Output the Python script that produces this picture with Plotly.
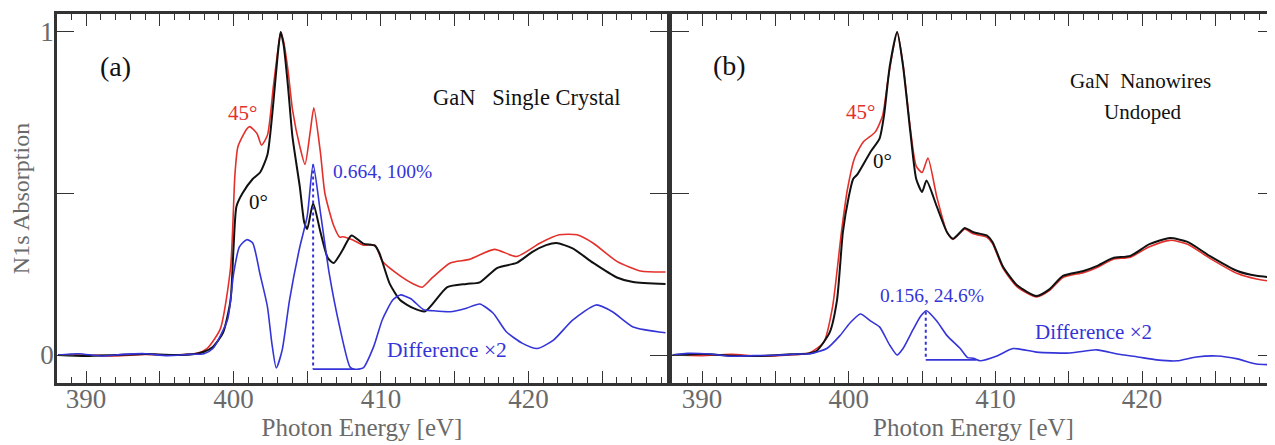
import plotly.graph_objects as go

# ---------------- data ----------------
# Panel (a): GaN single crystal
a_black_x = [388.1, 390, 392, 394, 396, 397.5, 398.0, 398.6, 399.3, 399.8, 400.0, 400.2, 400.6, 401.3, 401.8,
             402.3, 402.7, 403.0, 403.2, 403.4, 403.7, 404.0, 404.5, 404.8, 405.0, 405.4, 405.9, 406.4, 406.8,
             407.4, 408.0, 408.8, 409.6, 409.9, 410.6, 411.3, 412.2, 413.0, 414.5, 415.8, 416.7, 417.9, 419.2,
             420.3, 421.2, 421.9, 423.0, 424.4, 426.0, 427.1, 429.3]
a_black_y = [0.0, -0.003, 0.0, 0.003, 0.0, 0.004, 0.01, 0.025, 0.07, 0.17, 0.33, 0.46, 0.50, 0.545, 0.565,
             0.62, 0.78, 0.93, 1.0, 0.96, 0.83, 0.675, 0.52, 0.41, 0.39, 0.47, 0.38, 0.30, 0.285,
             0.325, 0.37, 0.345, 0.338, 0.315, 0.22, 0.17, 0.145, 0.135, 0.21, 0.22, 0.225, 0.27, 0.285,
             0.32, 0.34, 0.347, 0.33, 0.285, 0.24, 0.226, 0.22]

a_red_x = [388.1, 390, 392, 394, 396, 397.5, 398.2, 399.1, 399.8, 400.1, 400.3, 400.9, 401.1, 401.6, 401.9,
           402.3, 402.7, 403.0, 403.2, 403.4, 403.7, 404.0, 404.5, 404.85, 405.2, 405.45, 405.9, 406.2, 406.8, 407.2,
           407.4, 408.1, 408.8, 409.6, 410.1, 411.3, 412.2, 412.8, 413.5, 414.7, 416.0, 417.7, 419.2, 420.8,
           422.1, 423.3, 424.4, 426.0, 427.6, 429.3]
a_red_y = [0.0, 0.0, -0.003, 0.002, 0.0, 0.005, 0.02, 0.08, 0.27, 0.56, 0.645, 0.70, 0.707, 0.685, 0.65,
           0.68, 0.83, 0.94, 1.0, 0.97, 0.88, 0.76, 0.645, 0.59, 0.69, 0.765, 0.625, 0.50, 0.40, 0.365,
           0.366, 0.356, 0.34, 0.34, 0.29, 0.245, 0.22, 0.21, 0.24, 0.285, 0.296, 0.327, 0.305, 0.347,
           0.372, 0.372, 0.346, 0.29, 0.26, 0.257]

a_diff_x = [388.1, 389.5, 391, 392.5, 394, 395.5, 397, 398, 398.6, 399.6, 400.0, 400.4, 400.9, 401.3, 401.8,
            402.3, 402.6, 402.9, 403.3, 403.8, 404.5, 405.0, 405.4, 405.9, 406.5, 407.2, 407.9, 408.2, 408.8,
            409.5, 410.1, 410.8, 411.3, 412.0, 412.9, 413.5, 414.7, 415.8, 416.7, 417.6, 418.5, 419.6, 420.6,
            421.7, 423.0, 424.6, 425.7, 427.1, 429.3]
a_diff_y = [0.0, 0.004, -0.003, 0.002, 0.004, -0.002, 0.002, 0.004, 0.02, 0.11, 0.25, 0.335, 0.357, 0.347, 0.25,
            0.15, 0.037, -0.04, 0.015, 0.17, 0.335, 0.43, 0.59, 0.44, 0.25, 0.087, -0.037, -0.044, -0.04,
            0.025, 0.11, 0.17, 0.186, 0.175, 0.14, 0.137, 0.134, 0.145, 0.158, 0.13, 0.072, 0.036, 0.02,
            0.046, 0.108, 0.155, 0.134, 0.087, 0.069]

a_peak = [405.4, 0.59]          # dotted marker: energy, height
a_floor = [-0.044, 408.2]       # solid floor line: level, end energy

# Panel (b): GaN nanowires, undoped
b_black_x = [388.0, 390, 392, 394, 396, 397.3, 397.8, 398.7, 399.2, 399.6, 400.0, 400.3, 400.6, 401.5, 402.1,
             402.4, 402.8, 403.3, 403.7, 404.2, 404.6, 405.0, 405.3, 406.0, 406.7, 407.1, 407.6, 407.9, 408.5, 409.4,
             409.8, 410.5, 411.5, 412.8, 413.7, 414.6, 416.0, 416.9, 418.0, 419.2, 420.5, 421.9, 423.1, 424.6,
             426.5, 427.8, 429.1]
b_black_y = [0.0, 0.003, -0.002, -0.003, 0.002, 0.005, 0.012, 0.07, 0.17, 0.38, 0.49, 0.545, 0.56, 0.63, 0.67,
             0.74, 0.895, 1.0, 0.895, 0.69, 0.545, 0.505, 0.54, 0.46, 0.38, 0.36, 0.38, 0.393, 0.38, 0.37,
             0.35, 0.275, 0.215, 0.183, 0.204, 0.245, 0.26, 0.275, 0.30, 0.307, 0.343, 0.362, 0.35, 0.307,
             0.26, 0.245, 0.24]

b_red_x = [388.0, 390, 392, 394, 396, 397.3, 398.3, 398.9, 399.5, 399.9, 400.4, 401.0, 401.8, 402.3, 402.7,
           403.3, 403.7, 404.2, 404.6, 405.0, 405.4, 406.0, 406.7, 407.1, 407.6, 407.9, 408.5, 409.4, 409.8,
           410.5, 411.5, 412.8, 413.7, 414.6, 416.0, 416.9, 418.0, 419.2, 420.5, 421.9, 423.1, 424.6, 426.5,
           427.8, 429.1]
b_red_y = [0.0, -0.002, 0.002, -0.004, 0.0, 0.006, 0.04, 0.15, 0.38, 0.51, 0.61, 0.66, 0.69, 0.74, 0.86,
           1.0, 0.9, 0.70, 0.585, 0.565, 0.61, 0.49, 0.38, 0.358, 0.378, 0.39, 0.375, 0.365, 0.345,
           0.27, 0.21, 0.18, 0.2, 0.24, 0.255, 0.27, 0.296, 0.303, 0.335, 0.355, 0.343, 0.3, 0.252,
           0.235, 0.226]

b_diff_x = [388.0, 389, 390.5, 392, 393.5, 395, 396.5, 397.4, 398.5, 399.4, 400.1, 400.8, 401.5, 402.1, 402.8,
            403.3, 403.7, 404.4, 404.9, 405.3, 406.0, 406.7, 407.6, 408.1, 408.5, 408.95, 410.1, 411.2, 412.8,
            415.1, 416.9, 418.3, 419.7, 421.0, 422.4, 423.7, 425.1, 426.5, 427.8, 429.1]
b_diff_y = [0.0, 0.005, 0.003, -0.004, -0.002, -0.001, 0.003, 0.004, 0.02, 0.06, 0.10, 0.127, 0.105, 0.087, 0.03,
            0.0, 0.02, 0.08, 0.12, 0.137, 0.105, 0.06, 0.02, -0.008, -0.01, -0.018, -0.003, 0.02, 0.009,
            0.006, 0.016, 0.003, -0.006, -0.015, -0.018, -0.006, -0.003, -0.012, -0.028, -0.03]

b_peak = [405.25, 0.134]
b_floor = [-0.015, 408.7]

x_major = [390, 395, 400, 405, 410, 415, 420, 425]
x_labels = ["390", "", "400", "", "410", "", "420", ""]
y_major = [0, 0.5, 1]
y_labels = ["0", "", "1"]

# ---------------- styling ----------------
RED = "#e3302b"
BLUE = "#3434d8"
BLACK = "#111111"
FRAME = "#333333"
GREY = "#6a6a6a"
SERIF = "Liberation Serif"

fig = go.Figure()

def add_panel(xa, ya, bx, by, rx, ry, dx, dy, peak, floor):
    fig.add_trace(go.Scatter(x=rx, y=ry, mode="lines", line=dict(color=RED, width=1.6, shape="spline", smoothing=0.6),
                             xaxis=xa, yaxis=ya, showlegend=False))
    fig.add_trace(go.Scatter(x=bx, y=by, mode="lines", line=dict(color=BLACK, width=2.0, shape="spline", smoothing=0.6),
                             xaxis=xa, yaxis=ya, showlegend=False))
    fig.add_trace(go.Scatter(x=dx, y=dy, mode="lines", line=dict(color=BLUE, width=1.6, shape="spline", smoothing=0.6),
                             xaxis=xa, yaxis=ya, showlegend=False))
    fig.add_trace(go.Scatter(x=[peak[0], peak[0]], y=[peak[1], floor[0]], mode="lines",
                             line=dict(color=BLUE, width=2, dash="dot"), xaxis=xa, yaxis=ya, showlegend=False))
    fig.add_trace(go.Scatter(x=[peak[0], floor[1]], y=[floor[0], floor[0]], mode="lines",
                             line=dict(color=BLUE, width=1.8), xaxis=xa, yaxis=ya, showlegend=False))

add_panel("x", "y", a_black_x, a_black_y, a_red_x, a_red_y, a_diff_x, a_diff_y, a_peak, a_floor)
add_panel("x2", "y2", b_black_x, b_black_y, b_red_x, b_red_y, b_diff_x, b_diff_y, b_peak, b_floor)

# The page body has an 8px default margin, so the figure starts 8px in.
OFF = 8
W, H = 1275 - OFF, 445 - OFF
def px(sx):
    return (sx - OFF) / W
def py(sy):
    return 1 - (sy - OFF) / H

ydom = [py(383), py(14)]
YRANGE = [-0.0867, 1.0557]

def xaxis_cfg(dom, rng, anchor):
    return dict(domain=dom, range=rng, anchor=anchor, showgrid=False, zeroline=False,
                showline=True, linecolor=FRAME, linewidth=2.5, mirror="ticks",
                ticks="inside", ticklen=12, tickwidth=1.4, tickcolor=FRAME,
                tickmode="array", tickvals=x_major, ticktext=x_labels,
                tickfont=dict(family=SERIF, size=27, color=GREY), ticklabelstandoff=-10,
                minor=dict(ticks="inside", ticklen=6, tickwidth=1.2, tickcolor=FRAME,
                           tickmode="linear", tick0=390, dtick=1),
                title=dict(text="Photon Energy [eV]", font=dict(family=SERIF, size=25, color=GREY), standoff=2))

def yaxis_cfg(anchor, labels, mirror):
    return dict(domain=ydom, range=YRANGE, anchor=anchor, showgrid=False, zeroline=False,
                showline=True, linecolor=FRAME, linewidth=2.5, mirror=mirror,
                ticks="inside", ticklen=17, tickwidth=1.4, tickcolor=FRAME,
                tickmode="array", tickvals=y_major, ticktext=y_labels,
                showticklabels=labels, ticklabelstandoff=-5,
                tickfont=dict(family=SERIF, size=27, color=GREY))

fig.update_layout(
    width=W, height=H, margin=dict(l=0, r=0, t=0, b=0),
    paper_bgcolor="white", plot_bgcolor="white",
    font=dict(family=SERIF),
    xaxis=xaxis_cfg([px(57), px(667)], [388.03, 429.4], "y"),
    xaxis2=xaxis_cfg([px(672), 1.0], [387.95, 429.06], "y2"),
    yaxis=dict(yaxis_cfg("x", True, "ticks"),
               title=dict(text="N1s Absorption", font=dict(family=SERIF, size=24, color=GREY), standoff=4)),
    yaxis2=yaxis_cfg("x2", False, False),
    # right-hand ticks of panel (b); its frame line lies beyond the picture edge
    yaxis3=dict(overlaying="y2", side="right", anchor="x2", range=YRANGE, showgrid=False, zeroline=False,
                showline=False, ticks="inside", ticklen=17, tickwidth=1.4, tickcolor=FRAME,
                tickmode="array", tickvals=y_major, showticklabels=False),
)

# invisible carrier so the right-hand tick axis is drawn
fig.add_trace(go.Scatter(x=[b_black_x[0]], y=[b_black_y[0]], mode="lines", xaxis="x2", yaxis="y3",
                         showlegend=False, hoverinfo="skip", line=dict(width=0)))

NB = "\u00a0"
ann = [
    ("x", "y", 392.0, 0.892, "(a)", BLACK, 28),
    ("x", "y", 400.6, 0.75, "45°", RED, 21),
    ("x", "y", 401.7, 0.474, "0°", BLACK, 21),
    ("x", "y", 410.1, 0.567, "0.664, 100%", BLUE, 19.5),
    ("x", "y", 414.5, 0.015, "Difference ×2", BLUE, 21.5),
    ("x", "y", 419.9, 0.796, "GaN" + NB * 3 + "Single Crystal", BLACK, 22.5),
    ("x2", "y2", 391.9, 0.895, "(b)", BLACK, 28),
    ("x2", "y2", 400.8, 0.752, "45°", RED, 21),
    ("x2", "y2", 402.3, 0.60, "0°", BLACK, 21),
    ("x2", "y2", 405.7, 0.183, "0.156, 24.6%", BLUE, 19.5),
    ("x2", "y2", 416.7, 0.071, "Difference ×2", BLUE, 21),
    ("x2", "y2", 419.9, 0.848, "GaN" + NB * 2 + "Nanowires", BLACK, 21),
    ("x2", "y2", 420.0, 0.752, "Undoped", BLACK, 21),
]
for xr, yr, x, y, t, c, s in ann:
    fig.add_annotation(xref=xr, yref=yr, x=x, y=y, text=t, showarrow=False,
                       font=dict(family=SERIF, size=s, color=c), xanchor="center", yanchor="middle")

fig.write_html("out.html")
